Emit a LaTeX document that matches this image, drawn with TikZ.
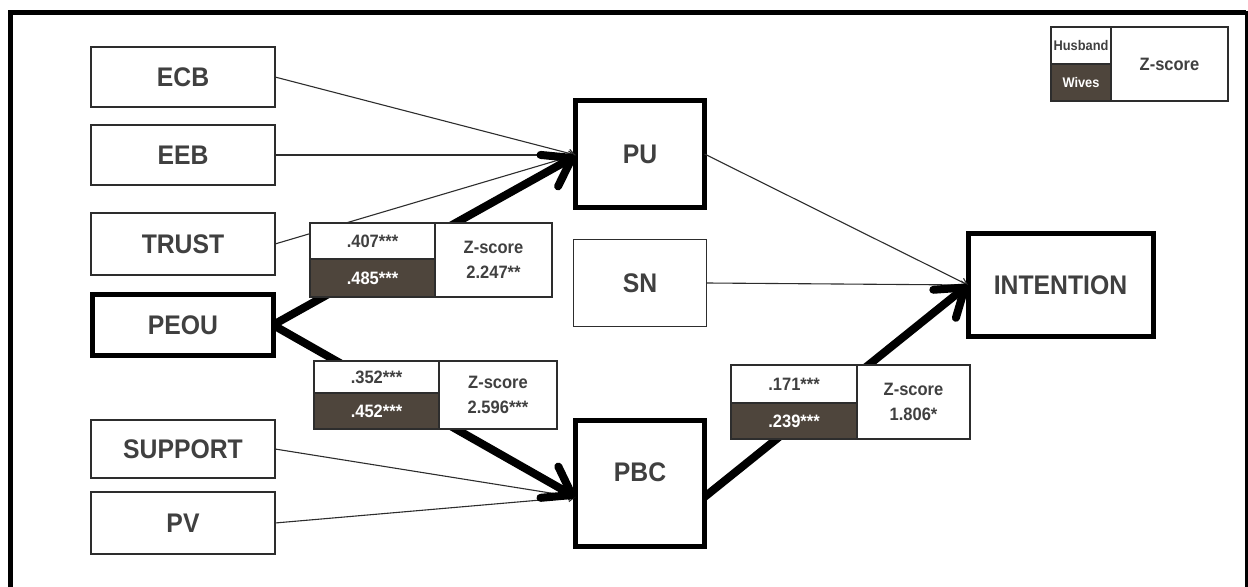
\documentclass[tikz,border=0pt]{standalone}
\usepackage{fontspec}
\setmainfont{Liberation Sans}[FakeStretch=0.92]
\usetikzlibrary{arrows.meta}
\definecolor{txt}{RGB}{64,64,64}
\definecolor{dark}{RGB}{78,69,60}
\definecolor{edge}{RGB}{45,45,45}
\tikzset{
  box/.style={draw=edge, line width=1.4bp, fill=white, minimum width=184bp, inner sep=0pt, outer sep=0pt,
    font=\bfseries\fontsize{27}{27}\selectfont, text=txt},
  bigbox/.style={box, draw=black, line width=5bp},
  cell/.style={draw=edge, line width=1.2bp, fill=white, inner sep=0pt, outer sep=0pt,
    font=\bfseries\fontsize{18}{25}\selectfont, text=txt, align=center},
  darkcell/.style={cell, fill=dark, text=white},
  legfont/.style={font=\bfseries\fontsize{14}{17}\selectfont},
  thinarrow/.style={draw=edge, line width=1.1bp, -{Straight Barb[length=6bp,width=8bp]}},
  thickarrow/.style={draw=black, line width=8bp, -{Straight Barb[length=26bp,width=36bp,round]}},
}
\begin{document}
\begin{tikzpicture}[x=1bp,y=-1bp]
\useasboundingbox (0,0) rectangle (1248,587);
% frame
\draw[line width=5bp] (10.5,587) -- (10.5,12.5) -- (1246,12.5);
\draw[line width=3bp] (1246,11) -- (1246,587);

% left nodes
\node[box, minimum height=60bp] (ECB) at (183,77) {ECB};
\node[box, minimum height=60bp] (EEB) at (183,155) {EEB};
\node[box, minimum height=62bp] (TRUST) at (183,244) {TRUST};
\node[bigbox, minimum width=180bp, minimum height=60bp] (PEOU) at (183,325) {PEOU};
\node[box, minimum height=58bp] (SUPPORT) at (183,449) {SUPPORT};
\node[box, minimum height=62bp] (PV) at (183,523) {PV};

% middle nodes
\node[bigbox, minimum width=129bp, minimum height=107bp] (PU) at (640,154) {PU};
\node[box, minimum width=133bp, minimum height=87bp] (SN) at (640,283) {SN};
\node[bigbox, minimum width=129bp, minimum height=126bp] (PBC) at (640,483)
  {\raisebox{11bp}[\height][\depth]{PBC}};
\node[bigbox, minimum width=185bp, minimum height=103bp] (INT) at (1060.5,285) {INTENTION};

% connectors
\draw[thinarrow] (ECB.east) -- ([yshift=-1bp]PU.west);
\draw[thinarrow] (EEB.east) -- ([yshift=-1bp]PU.west);
\draw[thinarrow] (TRUST.east) -- ([yshift=-1bp]PU.west);
\draw[thinarrow] (SUPPORT.east) -- ([yshift=-14bp]PBC.west);
\draw[thinarrow] (PV.east) -- ([yshift=-14bp]PBC.west);
\draw[thinarrow] (PU.east) -- (INT.west);
\draw[thinarrow] (SN.east) -- (INT.west);
\draw[thickarrow] (PEOU.east) -- ([yshift=-2bp]PU.west);
\draw[thickarrow] (PEOU.east) -- ([yshift=-14bp]PBC.west);
\draw[thickarrow] ([yshift=-14bp]PBC.east) -- (INT.west);

% coefficient boxes
\node[cell, minimum width=125bp, minimum height=36bp] (c1a) at (372.5,241) {.407***};
\node[darkcell, minimum width=125bp, minimum height=38bp] (c1b) at (372.5,278) {.485***};
\node[cell, minimum width=117bp, minimum height=74bp] (c1z) at (493.5,260) {Z-score\\2.247**};

\node[cell, minimum width=125bp, minimum height=32bp] (c2a) at (376.5,377) {.352***};
\node[darkcell, minimum width=125bp, minimum height=36bp] (c2b) at (376.5,411) {.452***};
\node[cell, minimum width=118bp, minimum height=68bp] (c2z) at (498,395) {Z-score\\2.596***};

\node[cell, minimum width=126bp, minimum height=38bp] (c3a) at (794,384) {.171***};
\node[darkcell, minimum width=126bp, minimum height=36bp] (c3b) at (794,421) {.239***};
\node[cell, minimum width=113bp, minimum height=74bp] (c3z) at (913.5,402) {Z-score\\1.806*};

% legend
\node[cell, legfont, minimum width=60bp, minimum height=37bp] (LH) at (1081,45.5) {Husband};
\node[darkcell, legfont, minimum width=60bp, minimum height=37bp] (LW) at (1081,82.5) {Wives};
\node[cell, minimum width=117bp, minimum height=74bp] (LZ) at (1169.5,64) {Z-score};
\end{tikzpicture}
\end{document}
